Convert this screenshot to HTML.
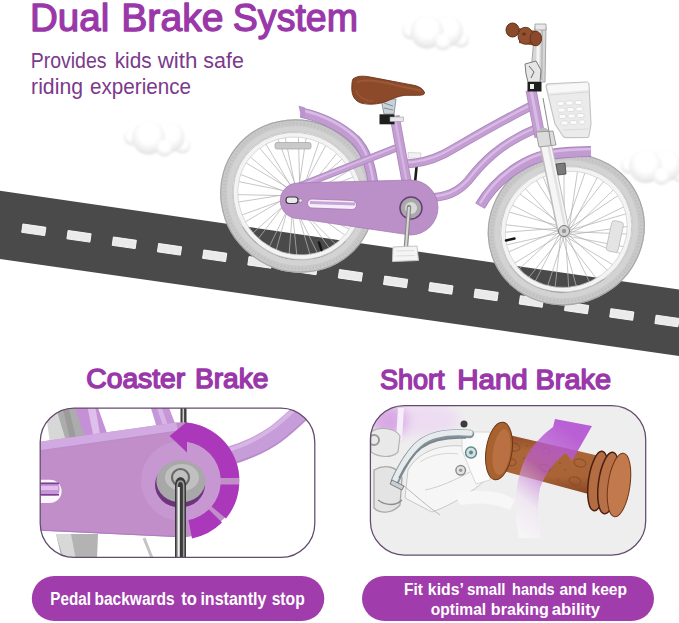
<!DOCTYPE html>
<html><head><meta charset="utf-8">
<style>
html,body{margin:0;padding:0;background:#fff;}
body{width:679px;height:623px;overflow:hidden;position:relative;font-family:"Liberation Sans",sans-serif;}
svg{position:absolute;left:0;top:0;display:block;}
</style></head>
<body>
<svg width="679" height="623" viewBox="0 0 679 623">
<!-- road -->
<polygon points="0,190.8 679,289.5 679,356 0,259" fill="#4a4a4a"/>
<g id="dashes" fill="#eaeaea" stroke="#fafafa" stroke-width="0.9">
<rect x="22.2" y="225.6" width="23.2" height="8.4" transform="rotate(8.20 33.8 229.8)"/>
<rect x="67.4" y="232.1" width="23.2" height="8.4" transform="rotate(8.20 79.0 236.3)"/>
<rect x="112.7" y="238.6" width="23.2" height="8.4" transform="rotate(8.20 124.3 242.8)"/>
<rect x="157.9" y="245.1" width="23.2" height="8.4" transform="rotate(8.20 169.5 249.3)"/>
<rect x="203.1" y="251.6" width="23.2" height="8.4" transform="rotate(8.20 214.7 255.8)"/>
<rect x="248.3" y="258.2" width="23.2" height="8.4" transform="rotate(8.20 259.9 262.4)"/>
<rect x="293.6" y="264.7" width="23.2" height="8.4" transform="rotate(8.20 305.2 268.9)"/>
<rect x="338.8" y="271.2" width="23.2" height="8.4" transform="rotate(8.20 350.4 275.4)"/>
<rect x="384.0" y="277.7" width="23.2" height="8.4" transform="rotate(8.20 395.6 281.9)"/>
<rect x="429.3" y="284.2" width="23.2" height="8.4" transform="rotate(8.20 440.9 288.4)"/>
<rect x="474.5" y="290.7" width="23.2" height="8.4" transform="rotate(8.20 486.1 294.9)"/>
<rect x="519.7" y="297.3" width="23.2" height="8.4" transform="rotate(8.20 531.3 301.5)"/>
<rect x="565.0" y="303.8" width="23.2" height="8.4" transform="rotate(8.20 576.6 308.0)"/>
<rect x="610.2" y="310.3" width="23.2" height="8.4" transform="rotate(8.20 621.8 314.5)"/>
<rect x="655.4" y="316.8" width="23.2" height="8.4" transform="rotate(8.20 667.0 321.0)"/>
</g>

<defs>
<radialGradient id="cg" cx="50%" cy="36%" r="68%"><stop offset="0.45" stop-color="#ffffff"/><stop offset="0.8" stop-color="#ececec"/><stop offset="1" stop-color="#d8d8d8"/></radialGradient>
<filter id="blur1" x="-20%" y="-20%" width="140%" height="140%"><feGaussianBlur stdDeviation="0.8"/></filter>
<g id="cloud" filter="url(#blur1)">
<circle cx="410.5" cy="31" r="8.5" fill="url(#cg)"/>
<circle cx="461" cy="39.5" r="8" fill="url(#cg)"/>
<circle cx="447.5" cy="31" r="15.5" fill="url(#cg)"/>
<circle cx="427" cy="32" r="16.5" fill="url(#cg)"/>
<circle cx="443" cy="42" r="8.5" fill="url(#cg)"/>
</g>
</defs>
<use href="#cloud"/>
<use href="#cloud" transform="translate(-278.5,106)"/>
<use href="#cloud" transform="translate(218.5,134.5)"/>
<!-- BIKE START -->
<g id="rearwheel"><path d="M300.0,197.7L353.4,177.0M299.9,198.5L319.0,141.8M299.6,199.2L357.8,197.4M299.3,199.9L336.9,153.3M298.8,200.6L354.8,217.6M298.2,201.1L350.1,170.0M297.6,201.5L345.0,235.2M296.8,201.8L357.0,189.9M296.1,202.0L329.4,248.1M295.3,202.0L356.7,210.4M294.5,201.9L310.0,254.7M293.8,201.6L349.3,229.2M293.1,201.3L289.1,254.2M292.4,200.8L335.6,244.1M291.9,200.2L269.3,246.7M291.5,199.6L317.4,253.1M291.2,198.8L252.8,233.1M291.0,198.1L296.8,255.2M291.0,197.3L241.8,215.0M291.1,196.5L276.2,250.2M291.4,195.8L237.4,194.6M291.7,195.1L258.3,238.7M292.2,194.4L240.4,174.4M292.8,193.9L245.1,222.0M293.4,193.5L250.2,156.8M294.2,193.2L238.2,202.1M294.9,193.0L265.8,143.9M295.7,193.0L238.5,181.6M296.5,193.1L285.2,137.3M297.2,193.4L245.9,162.8M297.9,193.7L306.1,137.8M298.6,194.2L259.6,147.9M299.1,194.8L325.9,145.3M299.5,195.4L277.8,138.9M299.8,196.2L342.4,158.9M300.0,196.9L298.4,136.8" stroke="#b3b3b3" stroke-width="0.75" fill="none"/>
<g transform="translate(297.6 196.0) rotate(-51.8)" fill="none">
<ellipse rx="68.90" ry="72.40" stroke="#c9c9c9" stroke-width="12.8"/>
<ellipse rx="65.80" ry="69.30" stroke="#d3d3d3" stroke-width="5"/>
<ellipse rx="71.50" ry="75.00" stroke="#bdbdbd" stroke-width="3" stroke-dasharray="1.2 2.4" opacity="0.8"/>
<ellipse rx="74.70" ry="78.20" stroke="#a8a8a8" stroke-width="1.2"/>
<ellipse rx="60.00" ry="63.50" stroke="#f3f3f3" stroke-width="4.6"/>
<ellipse rx="57.70" ry="61.20" stroke="#cfcfcf" stroke-width="0.7"/>
<ellipse rx="62.30" ry="65.80" stroke="#bcbcbc" stroke-width="0.7"/>
</g></g>
<g id="frontwheel"><path d="M569.5,231.7L627.1,234.0M569.4,232.5L613.6,189.6M569.1,233.2L620.5,253.7M568.8,233.9L624.1,206.7M568.3,234.6L607.5,270.4M567.7,235.1L627.6,226.5M567.1,235.5L589.5,282.2M566.3,235.8L623.7,246.7M565.6,236.0L568.7,287.6M564.8,236.0L612.9,264.8M564.0,235.9L547.6,286.0M563.3,235.6L596.5,278.6M562.6,235.3L528.7,277.6M561.9,234.8L576.4,286.4M561.4,234.2L514.4,263.3M561.0,233.6L555.1,287.4M560.7,232.8L506.4,244.9M560.5,232.1L535.2,281.4M560.5,231.3L505.5,224.7M560.6,230.5L519.0,269.1M560.9,229.8L512.1,205.0M561.2,229.1L508.5,252.0M561.7,228.4L525.1,188.3M562.3,227.9L505.0,232.2M562.9,227.5L543.1,176.5M563.7,227.2L508.9,212.0M564.4,227.0L563.9,171.1M565.2,227.0L519.7,193.9M566.0,227.1L585.0,172.7M566.7,227.4L536.1,180.1M567.4,227.7L603.9,181.1M568.1,228.2L556.2,172.3M568.6,228.8L618.2,195.4M569.0,229.4L577.5,171.3M569.3,230.2L626.2,213.8M569.5,230.9L597.4,177.3" stroke="#b3b3b3" stroke-width="0.75" fill="none"/>
<g transform="translate(566.3 229.35) rotate(-25.3)" fill="none">
<ellipse rx="73.00" ry="68.60" stroke="#c9c9c9" stroke-width="12.8"/>
<ellipse rx="69.90" ry="65.50" stroke="#d3d3d3" stroke-width="5"/>
<ellipse rx="75.60" ry="71.20" stroke="#bdbdbd" stroke-width="3" stroke-dasharray="1.2 2.4" opacity="0.8"/>
<ellipse rx="78.80" ry="74.40" stroke="#a8a8a8" stroke-width="1.2"/>
<ellipse rx="64.10" ry="59.70" stroke="#f3f3f3" stroke-width="4.6"/>
<ellipse rx="61.80" ry="57.40" stroke="#cfcfcf" stroke-width="0.7"/>
<ellipse rx="66.40" ry="62.00" stroke="#bcbcbc" stroke-width="0.7"/>
</g></g>
<!-- valves & bracket -->
<path d="M506,240.5 L514.5,238.5" stroke="#151515" stroke-width="2.4" stroke-linecap="round"/>
<path d="M319,242.5 L321.5,250" stroke="#151515" stroke-width="2.4" stroke-linecap="round"/>
<path d="M408,152.5 L421,153 L420.5,158.5 L408.5,158 Z" fill="#f2f2f2" stroke="#c9c9c9" stroke-width="0.7"/>
<!-- reflectors -->
<rect x="275" y="142.5" width="36" height="6.5" rx="2" fill="#c9c9c9" stroke="#a9a9a9" stroke-width="0.8"/>
<rect x="609" y="221" width="12" height="31" rx="3" fill="#e4e4e4" stroke="#bdbdbd" stroke-width="0.8" transform="rotate(12 615 236)"/>
<!-- rear fender -->
<path d="M301,112.5 C323,117.5 342,127.5 355,139.5 C366,151 371.5,166 373.5,188" fill="none" stroke="#a783b9" stroke-width="10.5"/>
<path d="M301,112.5 C323,117.5 342,127.5 355,139.5 C366,151 371.5,166 373.5,188" fill="none" stroke="#c29bd2" stroke-width="8.7"/>
<path d="M301,112.5 C323,117.5 342,127.5 355,139.5 C366,151 371.5,166 373.5,188" fill="none" stroke="#d8bce6" stroke-width="2.5" transform="translate(0 -2.5)"/>
<path d="M298.5,105.5 L305,107.5 L305,118 L301,117 Z" fill="#bb94cd"/>
<!-- seat stay -->
<path d="M396,148 L300,186" fill="none" stroke="#aa89ba" stroke-width="7.5"/>
<path d="M396,148 L300,186" fill="none" stroke="#c49dd3" stroke-width="5.9"/>
<path d="M396,148 L300,186" fill="none" stroke="#d8bce6" stroke-width="1.8" transform="translate(0 -1)"/>
<!-- front fender -->
<path d="M480,206 C488,192 500,178 520,166 C535,157 548,152 591,151.5" fill="none" stroke="#a783b9" stroke-width="11"/>
<path d="M480,206 C488,192 500,178 520,166 C535,157 548,152 591,151.5" fill="none" stroke="#c29bd2" stroke-width="9.2"/>
<path d="M480,206 C488,192 500,178 520,166 C535,157 548,152 591,151.5" fill="none" stroke="#d8bce6" stroke-width="2.5" transform="translate(0 -2.5)"/>
<path d="M416.5,167 L415,183" stroke="#1c1c1c" stroke-width="2.6"/>
<!-- upper top tube -->
<path d="M402,164 C418,164 430,161 444,154 C462,144 495,124 533,105" fill="none" stroke="#aa89ba" stroke-width="9"/>
<path d="M402,164 C418,164 430,161 444,154 C462,144 495,124 533,105" fill="none" stroke="#c49dd3" stroke-width="7.4"/>
<path d="M402,164 C418,164 430,161 444,154 C462,144 495,124 533,105" fill="none" stroke="#d8bce6" stroke-width="2.2" transform="translate(0 -1.2)"/>
<!-- lower tube -->
<path d="M428,198 C446,197 457,193 468,181 C481,164 500,143 538,128" fill="none" stroke="#aa89ba" stroke-width="9"/>
<path d="M428,198 C446,197 457,193 468,181 C481,164 500,143 538,128" fill="none" stroke="#c49dd3" stroke-width="7.4"/>
<path d="M428,198 C446,197 457,193 468,181 C481,164 500,143 538,128" fill="none" stroke="#d8bce6" stroke-width="2.2" transform="translate(0 -1.2)"/>
<!-- seat tube -->
<path d="M394.5,116 L410,200" fill="none" stroke="#aa89ba" stroke-width="10"/>
<path d="M394.5,116 L410,200" fill="none" stroke="#c49dd3" stroke-width="8.4"/>
<path d="M394.5,116 L410,200" fill="none" stroke="#d4b6e2" stroke-width="2.2" transform="translate(0 0)"/>
<!-- head tube -->
<path d="M531,90 L540,137" fill="none" stroke="#aa89ba" stroke-width="11"/>
<path d="M531,90 L540,137" fill="none" stroke="#c49dd3" stroke-width="9.4"/>
<path d="M531,90 L540,137" fill="none" stroke="#d8bce6" stroke-width="3" transform="translate(0 0)"/>
<!-- chain guard -->
<path d="M298,183 L410.5,180 A27.5,27.5 0 0 1 410.5,235 L298,218.5 A17.75,17.75 0 0 1 298,183 Z" fill="#bb8fc7" stroke="#a77db5" stroke-width="0.8"/>
<path d="M312,199 L352,200.5 A4.5,4.5 0 0 1 352,209.5 L312,208 A4.5,4.5 0 0 1 312,199 Z" fill="#f4eef7" stroke="#9f76b0" stroke-width="0.8"/>
<path d="M310,202.5 L355,204" stroke="#c9a3d9" stroke-width="3"/>
<rect x="286" y="197" width="12" height="6.5" rx="3" fill="#eaeaea" stroke="#3a3a3a" stroke-width="1.2"/>
<circle cx="300.5" cy="200.5" r="1.6" fill="#eee" stroke="#888" stroke-width="0.6"/>
<!-- crank -->
<circle cx="411" cy="208" r="11" fill="#a9a9a9" stroke="#6a3d7a" stroke-width="1.5"/>
<circle cx="411" cy="208" r="6" fill="#d9d9d9"/>
<path d="M409,207 L406,246" stroke="#8a8a8a" stroke-width="4.5" stroke-linecap="round"/>
<path d="M409,207 L406,246" stroke="#d8d8d8" stroke-width="2"/>
<path d="M393,247 L417,246 L418.5,260.5 L392.5,261.5 Z" fill="#f4f4f4" stroke="#c4c4c4" stroke-width="1"/>
<path d="M396,251 L414,250.5 M396,256 L415,255.5" stroke="#dcdcdc" stroke-width="1.2"/>
<!-- fork -->
<path d="M543.5,134 L563,229" fill="none" stroke="#bcbcbc" stroke-width="12.5" stroke-linecap="round"/>
<path d="M543.8,134 L563.3,229" fill="none" stroke="#f6f6f6" stroke-width="10"/>
<path d="M546,134 L565.5,229" fill="none" stroke="#e2e2e2" stroke-width="2.5"/>
<path d="M536,132 L553,131 L556,145 L539,147 Z" fill="#dcdcdc" stroke="#8d8d8d" stroke-width="0.8"/>
<path d="M556,164 L565,163 L566,174 L558,175 Z" fill="#7b7b7b" stroke="#444" stroke-width="0.8"/>
<circle cx="564" cy="231" r="5.5" fill="#d5d5d5" stroke="#7a7a7a" stroke-width="1"/>
<circle cx="564" cy="231" r="2.2" fill="#999"/>
<!-- stem -->
<path d="M535,27 L546,27 L545,82 L530,82 Z" fill="#d6d6d6" stroke="#a0a0a0" stroke-width="0.9"/>
<path d="M537,29 L540,29 L539,80 L536,80 Z" fill="#f5f5f5"/>
<path d="M541.5,29 L543,29 L542.5,80 L541,80 Z" fill="#b8b8b8"/>
<path d="M535,24 L546,24 L546,30 L535,30 Z" fill="#e8e8e8" stroke="#9a9a9a" stroke-width="0.8"/>
<path d="M525,64 L536,61 L541,70 L540,82 L528,82 L526,74 Z" fill="#e6e6e6" stroke="#7c7c7c" stroke-width="1"/>
<path d="M529,66 L534,72 L531,78" fill="none" stroke="#6a6a6a" stroke-width="1"/>
<rect x="527.5" y="82" width="14" height="9.5" fill="#1d1d1d"/>
<rect x="530" y="84" width="4" height="5" fill="#f0f0f0"/>
<!-- brake cable -->
<path d="M543,98 C546,115 549,130 551,145" fill="none" stroke="#8a8a8a" stroke-width="1"/>
<!-- handlebar grips -->
<ellipse cx="512.5" cy="30" rx="6.5" ry="7" fill="#8a4a2b" stroke="#5e2f15" stroke-width="1"/>
<path d="M519,28 L536,31 L536,46 L519,43 Z" fill="#8e4c2c"/>
<ellipse cx="525.5" cy="35.8" rx="7.5" ry="8.5" fill="#935030" stroke="#5e2f15" stroke-width="0.9"/>
<ellipse cx="535.8" cy="38.5" rx="5.8" ry="7.3" fill="#8b482a" stroke="#5e2f15" stroke-width="0.9"/>
<ellipse cx="524" cy="34" rx="2" ry="1.5" fill="#6a3418"/>
<!-- basket -->
<path d="M546,86.5 C546,84.5 547,84 549,83.8 L586,82 C588,82 589,83 589,85 L591,124 L589,136 C589,137 588,137.5 587,137.5 L566,137.6 C564,137.6 563,137 562.5,135.5 L555,124 Z" fill="#ebebeb" stroke="#c2c2c2" stroke-width="1.1"/>
<path d="M547,86 L588,82.5 L588.5,90 L549,93 Z" fill="#f8f8f8"/>
<path d="M549.5,95 L588,92" stroke="#d3d3d3" stroke-width="0.8"/>
<g fill="#fbfbfb" stroke="#d0d0d0" stroke-width="0.6">
<rect x="557" y="101.5" width="7" height="4" rx="1.5"/><rect x="566" y="101" width="7" height="4" rx="1.5"/><rect x="575" y="100.5" width="7" height="4" rx="1.5"/>
<rect x="558" y="108" width="7" height="4" rx="1.5"/><rect x="567" y="107.5" width="7" height="4" rx="1.5"/><rect x="576" y="107" width="7" height="4" rx="1.5"/>
<rect x="559" y="114.5" width="7" height="4" rx="1.5"/><rect x="568" y="114" width="7" height="4" rx="1.5"/><rect x="577" y="113.5" width="7" height="4" rx="1.5"/>
<rect x="561" y="121" width="7" height="4" rx="1.5"/><rect x="570" y="120.5" width="7" height="4" rx="1.5"/><rect x="579" y="120" width="6" height="4" rx="1.5"/>
</g>
<path d="M563,130 L588,129" stroke="#d6d6d6" stroke-width="0.8"/>
<!-- seat clamp -->
<path d="M381,99 L396,99 L394,114 L384,114 Z" fill="#c9d2d8" stroke="#7f8f9a" stroke-width="0.9"/>
<path d="M384,103 L393,106 M384,108 L393,110" stroke="#7f8f9a" stroke-width="1"/>
<rect x="379.5" y="114.3" width="15" height="10" fill="#1e1e1e"/>
<rect x="390" y="117" width="13.5" height="4.5" fill="#e8e8e8" stroke="#9a9a9a" stroke-width="0.6"/>
<!-- seat -->
<path d="M353,79 C357,76 362,75.5 370,77 C385,79.5 400,83 415,85.5 C420,87 424,89.5 424.5,93 C424.5,95 421,95.5 414,95.3 L405,95.3 C398,96 392,99 386,101.5 C378,104.5 368,105 361,103 C355,101 352,96 351.8,89 C351.8,84 352,81 353,79 Z" fill="#8d4a2a" stroke="#6a3318" stroke-width="0.9"/>
<path d="M357,82 C365,79 380,81 395,85 C405,87.5 415,89 421,91" fill="none" stroke="#a5633f" stroke-width="2.2" opacity="0.6"/>
<path d="M356,90 C358,97 365,101 373,101" fill="none" stroke="#a5633f" stroke-width="1.5" opacity="0.5"/>
<!-- BIKE END -->
<!-- title -->

<!-- headings -->

<!-- boxes -->


<!-- BOXES START -->
<defs>
<clipPath id="clipL"><rect x="40.2" y="408" width="274.6" height="149.4" rx="34"/></clipPath>
<clipPath id="clipR"><rect x="370.4" y="405.6" width="275.3" height="149.4" rx="34"/></clipPath>
<filter id="blur3" x="-50%" y="-50%" width="200%" height="200%"><feGaussianBlur stdDeviation="6"/></filter>
<filter id="blur1b"><feGaussianBlur stdDeviation="0.6"/></filter>
<linearGradient id="arrowG" x1="0" y1="1" x2="0.5" y2="0">
<stop offset="0" stop-color="#ffffff" stop-opacity="0.6"/>
<stop offset="0.3" stop-color="#efe3f3" stop-opacity="0.6"/>
<stop offset="0.6" stop-color="#b85fcf" stop-opacity="0.7"/>
<stop offset="1" stop-color="#b553d3" stop-opacity="0.92"/>
</linearGradient>
<linearGradient id="gripG" x1="0" y1="0" x2="0" y2="1">
<stop offset="0" stop-color="#8f4b28"/>
<stop offset="0.3" stop-color="#ab6638"/>
<stop offset="0.7" stop-color="#a96336"/>
<stop offset="1" stop-color="#874522"/>
</linearGradient>
</defs>
<!-- LEFT BOX CONTENT -->
<g clip-path="url(#clipL)">
<rect x="40" y="408" width="276" height="150" fill="#fff"/>
<!-- tire top-left -->
<path d="M55,405 L78,405 L88,437 L60,441 Z" fill="#acacac"/>
<path d="M62,405 L68,405 L76,438 L70,439 Z" fill="#9b9b9b"/>
<path d="M46,414 L56,408 L66,441 L50,443 Z" fill="#d7d7d7"/>
<!-- tire bottom -->
<path d="M56,534 L98,534 L97,560 L62,560 Z" fill="#b3b3b3"/>
<path d="M56,534 L71,534 L76,560 L64,560 Z" fill="#d8d8d8"/>
<!-- tubes top -->
<path d="M74,405 L97,405 L108,436 L85,438 Z" fill="#c490d6"/>
<path d="M87,405 L95,405 L100,434 L93,434 Z" fill="#dfc0ec"/>
<path d="M150,405 L168,405 L176,426 L157,428 Z" fill="#c596d8"/>
<path d="M156,405 L161,405 L168,426 L163,426 Z" fill="#d7b5e6"/>
<rect x="180.5" y="405" width="6" height="19" fill="#3c3c3c"/>
<rect x="182.5" y="405" width="1.6" height="19" fill="#d0d0d0"/>
<!-- lower frame tube to right -->
<path d="M222,458 C245,452 262,444 276,434 C288,425 298,415 312,402" fill="none" stroke="#c69dd8" stroke-width="19"/>
<path d="M222,452 C244,446 259,438 272,428.5 C284,420 293,410 306,398" fill="none" stroke="#d7b6e6" stroke-width="4"/>
<path d="M222,466.5 C246,460 266,452 281,441 C293,432 302,423 316,410" fill="none" stroke="#b88bca" stroke-width="1.5"/>
<!-- chain guard -->
<path d="M38,442 L176,422.5 A58.5,58.5 0 0 1 239.5,480.5 A58.5,58.5 0 0 1 175,537 L38,530.5 Z" fill="#c18ec9"/>
<path d="M38,442 L176,422.5 L178,431 L38,451 Z" fill="#d2aae2"/>
<path d="M38,451 L178,431" stroke="#b885cb" stroke-width="0.8"/>
<path d="M38,530 L175,536.5" stroke="#b07cc2" stroke-width="1.2"/>
<!-- boss -->
<circle cx="181" cy="481" r="40" fill="#c697d0"/>
<!-- slot -->
<path d="M38,479.7 L50,479.7 A11.6,11.6 0 0 1 50,502.9 L38,502.9 Z" fill="#fbf7fc"/>
<rect x="38" y="482.6" width="21.5" height="13" rx="5" fill="#c795d8"/>
<rect x="38" y="482.6" width="21" height="1.6" fill="#7d3f90"/>
<rect x="38" y="494" width="21" height="1.6" fill="#7d3f90"/>
<rect x="38" y="486" width="20" height="4" fill="#e3bff0"/>
<!-- arrow ring segments -->
<g fill="#ab37ba">
<path d="M186.5,422.6 A58.2,58.2 0 0 1 239.2,478 L220.7,478 A39.7,39.7 0 0 0 186.5,441.7 Z"/>
<path d="M239.2,484.5 A58.2,58.2 0 0 1 226,518.5 L211.6,506.5 A39.7,39.7 0 0 0 220.6,484.5 Z"/>
<path d="M222,522.5 A58.2,58.2 0 0 1 192,538.4 L188.5,520 A39.7,39.7 0 0 0 208.8,509.5 Z"/>
<path d="M187,421.8 L169.6,436 L187,452.4 Z"/>
</g>
<!-- nut -->
<ellipse cx="180" cy="485" rx="25" ry="22.5" fill="#5e2270" opacity="0.85"/>
<ellipse cx="180.9" cy="481.3" rx="24.5" ry="21" fill="#a8a8a8"/>
<ellipse cx="182" cy="477.5" rx="17" ry="13.5" fill="#c4c4c4" opacity="0.85"/>
<circle cx="180.5" cy="477.5" r="8.5" fill="none" stroke="#6a6a6a" stroke-width="2.2"/>
<!-- crank arm -->
<path d="M175,560 L175,485 C175,474.5 186,474.5 186,485 L186,560 Z" fill="#3a3a3a"/>
<path d="M177.3,560 L177.3,486 C177.3,479.5 183.7,479.5 183.7,486 L183.7,560" fill="none" stroke="#9a9a9a" stroke-width="1.6"/>
<path d="M178.8,560 L178.8,487" stroke="#f0f0f0" stroke-width="2"/>
<path d="M144,538 L152,558" stroke="#c4c4c4" stroke-width="3"/>
</g>
<!-- RIGHT BOX CONTENT -->
<g clip-path="url(#clipR)">
<rect x="370" y="405" width="277" height="151" fill="#efeeee"/>
<ellipse cx="425" cy="420" rx="35" ry="16" fill="#eddcf2" filter="url(#blur3)"/>
<ellipse cx="389" cy="421" rx="18" ry="17" fill="#d9a9e4" filter="url(#blur3)"/>
<path d="M398,408 L404,408 L402,440 L396,440 Z" fill="#f6eef8" filter="url(#blur1b)"/>
<ellipse cx="464" cy="424" rx="3.5" ry="3.5" fill="#3a3a3a" filter="url(#blur1b)"/>
<!-- left clamp pieces -->
<path d="M371,432 C380,426 395,428 400,436 L398,452 C392,458 380,458 371,452 Z" fill="#e9e9e9" stroke="#b3b3b3" stroke-width="1.2" filter="url(#blur1b)"/>
<circle cx="374" cy="440" r="5" fill="none" stroke="#9a9a9a" stroke-width="2" filter="url(#blur1b)"/>
<path d="M374,470 C385,464 398,466 402,478 L400,505 C392,514 380,514 374,508 Z" fill="#e4e4e4" stroke="#a9a9a9" stroke-width="1.3" filter="url(#blur1b)"/>
<path d="M378,500 C386,506 396,506 402,500" fill="none" stroke="#8e8e8e" stroke-width="1.5"/>
<!-- lever plate -->
<path d="M408,470 C418,452 440,444 462,446 L486,452 L488,478 C472,492 452,505 432,512 L405,498 Z" fill="#f6f6f6" stroke="#c8c8c8" stroke-width="1"/>
<path d="M420,462 C430,455 445,452 458,454" fill="none" stroke="#d6d6d6" stroke-width="1"/>
<path d="M425,490 C440,487 455,480 470,472" fill="none" stroke="#c9c9c9" stroke-width="0.9"/>
<path d="M404,486 C415,495 428,507 440,515" fill="none" stroke="#b9b9b9" stroke-width="1"/>
<path d="M462,432 L490,432 L490,480 L476,484 L470,470 L462,450 Z" fill="#fbfbfb" stroke="#d4d4d4" stroke-width="0.9"/>
<!-- silver lever bar -->
<path d="M395,481 C402,466 410,452 420,444 C430,436 445,432 470,434" fill="none" stroke="#86939a" stroke-width="8.5" stroke-linecap="round"/>
<path d="M395,480 C402,465 410,451 420,443 C430,435 445,431 470,433" fill="none" stroke="#e6ebee" stroke-width="5.5" stroke-linecap="round"/>
<path d="M399,478 C405,466 412,455 421,448 C432,440 446,437 466,438" fill="none" stroke="#7b878d" stroke-width="1.6"/>
<path d="M392,480 L404,486 L402,490 L390,484 Z" fill="#c9cfd2" stroke="#666" stroke-width="0.8"/>
<!-- bolts -->
<circle cx="471" cy="452.6" r="5.5" fill="#d6e0e0" stroke="#5f8a8c" stroke-width="1.5"/>
<circle cx="471" cy="452.6" r="2" fill="#5f8a8c"/>
<circle cx="460.7" cy="470.3" r="4.8" fill="#e4e4e4" stroke="#8d8d8d" stroke-width="1.5"/>
<circle cx="460.7" cy="470.3" r="1.8" fill="#999"/>
<!-- lower white piece -->
<path d="M455,495 C475,488 500,490 515,500 L510,510 C495,503 478,502 460,505 Z" fill="#f7f7f7"/>
<!-- grip -->
<g>
<path d="M500,433 L606,457.5 L592,495 L496,469 Z" fill="url(#gripG)"/>
<g fill="none" stroke="#844a24" stroke-width="1.1" opacity="0.75">
<ellipse cx="514" cy="447" rx="6" ry="4" transform="rotate(14 514 447)"/>
<ellipse cx="511" cy="462" rx="5" ry="3.5" transform="rotate(14 511 462)"/>
<ellipse cx="580" cy="463" rx="6" ry="4" transform="rotate(14 580 463)"/>
<ellipse cx="575" cy="481" rx="6" ry="4" transform="rotate(14 575 481)"/>
<ellipse cx="545" cy="468" rx="5.5" ry="3.5" transform="rotate(14 545 468)"/>
<ellipse cx="546" cy="451" rx="4" ry="3" transform="rotate(14 546 451)"/>
</g>
<g fill="#844a24" opacity="0.6">
<circle cx="527" cy="446" r="0.9"/><circle cx="531" cy="452" r="0.9"/><circle cx="524" cy="458" r="0.9"/><circle cx="560" cy="463" r="0.9"/><circle cx="565" cy="470" r="0.9"/><circle cx="590" cy="472" r="0.9"/><circle cx="588" cy="480" r="0.9"/><circle cx="558" cy="480" r="0.9"/>
</g>
<ellipse cx="499" cy="451" rx="13" ry="29" transform="rotate(8 499 451)" fill="#a8622f" stroke="#6d3517" stroke-width="1"/>
<ellipse cx="501.5" cy="452" rx="8.5" ry="23" transform="rotate(8 501.5 452)" fill="#b97144"/>
<ellipse cx="598" cy="481" rx="9.5" ry="30" transform="rotate(8 598 481)" fill="#b46d42" stroke="#4a2010" stroke-width="1.5"/>
<ellipse cx="608.5" cy="483" rx="10" ry="31" transform="rotate(8 608.5 483)" fill="#b87146" stroke="#4a2010" stroke-width="1.5"/>
<ellipse cx="619" cy="485" rx="11" ry="32" transform="rotate(8 619 485)" fill="#c27a4c" stroke="#6d3517" stroke-width="1"/>
</g>
<!-- purple arrow -->
<path d="M519,538 C513,508 515,478 527,455 C535,442 545,433 553,427 L555,419 L592,426 L572,461 L566,453 C556,460 546,472 540,488 C537,505 538,520 541,538 Z" fill="url(#arrowG)"/>
</g>
<!-- BOXES END -->
<rect x="40.2" y="408" width="274.6" height="149.4" rx="34" fill="none" stroke="#634a6c" stroke-width="1.25"/>
<rect x="370.4" y="405.6" width="275.3" height="149.4" rx="34" fill="none" stroke="#634a6c" stroke-width="1.25"/>

<!-- pills -->
<rect x="31.8" y="576" width="292.5" height="45" rx="22.5" fill="#a03cab"/>
<rect x="362" y="576" width="292" height="45" rx="22.5" fill="#a03cab"/>
<g id="texts" font-family="Liberation Sans">
<text id="w0" x="29.92" y="31.4" font-size="38.6" font-weight="normal" stroke="#9a38aa" stroke-width="1.3" stroke-linejoin="round" fill="#9a38aa" textLength="79.29" lengthAdjust="spacingAndGlyphs">Dual</text>
<text id="w1" x="121.22" y="31.4" font-size="38.6" font-weight="normal" stroke="#9a38aa" stroke-width="1.3" stroke-linejoin="round" fill="#9a38aa" textLength="102.30" lengthAdjust="spacingAndGlyphs">Brake</text>
<text id="w2" x="232.79" y="31.4" font-size="38.6" font-weight="normal" stroke="#9a38aa" stroke-width="1.3" stroke-linejoin="round" fill="#9a38aa" textLength="125.29" lengthAdjust="spacingAndGlyphs">System</text>
<text id="w3" x="30.65" y="68.2" font-size="21.5" font-weight="normal" fill="#7b3a8b" textLength="75.97" lengthAdjust="spacingAndGlyphs">Provides</text>
<text id="w4" x="114.64" y="68.2" font-size="21.5" font-weight="normal" fill="#7b3a8b" textLength="36.99" lengthAdjust="spacingAndGlyphs">kids</text>
<text id="w5" x="157.67" y="68.2" font-size="21.5" font-weight="normal" fill="#7b3a8b" textLength="39.77" lengthAdjust="spacingAndGlyphs">with</text>
<text id="w6" x="203.36" y="68.2" font-size="21.5" font-weight="normal" fill="#7b3a8b" textLength="40.48" lengthAdjust="spacingAndGlyphs">safe</text>
<text id="w7" x="31.10" y="93.6" font-size="21.5" font-weight="normal" fill="#7b3a8b" textLength="51.90" lengthAdjust="spacingAndGlyphs">riding</text>
<text id="w8" x="90.07" y="93.6" font-size="21.5" font-weight="normal" fill="#7b3a8b" textLength="101.04" lengthAdjust="spacingAndGlyphs">experience</text>
<text id="w9" x="86.29" y="388.3" font-size="28.4" font-weight="normal" stroke="#9a38aa" stroke-width="1.5" stroke-linejoin="round" fill="#9a38aa" textLength="98.94" lengthAdjust="spacingAndGlyphs">Coaster</text>
<text id="w10" x="194.99" y="388.3" font-size="28.4" font-weight="normal" stroke="#9a38aa" stroke-width="1.5" stroke-linejoin="round" fill="#9a38aa" textLength="73.44" lengthAdjust="spacingAndGlyphs">Brake</text>
<text id="w11" x="379.89" y="388.5" font-size="28.4" font-weight="normal" stroke="#9a38aa" stroke-width="1.5" stroke-linejoin="round" fill="#9a38aa" textLength="64.72" lengthAdjust="spacingAndGlyphs">Short</text>
<text id="w12" x="457.15" y="388.5" font-size="28.4" font-weight="normal" stroke="#9a38aa" stroke-width="1.5" stroke-linejoin="round" fill="#9a38aa" textLength="70.61" lengthAdjust="spacingAndGlyphs">Hand</text>
<text id="w13" x="535.52" y="388.5" font-size="28.4" font-weight="normal" stroke="#9a38aa" stroke-width="1.5" stroke-linejoin="round" fill="#9a38aa" textLength="75.51" lengthAdjust="spacingAndGlyphs">Brake</text>
<text id="w14" x="50.37" y="605.3" font-size="18" font-weight="bold" fill="#fff" textLength="40.67" lengthAdjust="spacingAndGlyphs">Pedal</text>
<text id="w15" x="94.44" y="605.3" font-size="18" font-weight="bold" fill="#fff" textLength="80.23" lengthAdjust="spacingAndGlyphs">backwards</text>
<text id="w16" x="181.28" y="605.3" font-size="18" font-weight="bold" fill="#fff" textLength="15.66" lengthAdjust="spacingAndGlyphs">to</text>
<text id="w17" x="200.39" y="605.3" font-size="18" font-weight="bold" fill="#fff" textLength="66.06" lengthAdjust="spacingAndGlyphs">instantly</text>
<text id="w18" x="271.67" y="605.3" font-size="18" font-weight="bold" fill="#fff" textLength="33.06" lengthAdjust="spacingAndGlyphs">stop</text>
<text id="w19" x="404.11" y="595.4" font-size="17" font-weight="bold" fill="#fff" textLength="18.89" lengthAdjust="spacingAndGlyphs">Fit</text>
<text id="w20" x="427.86" y="595.4" font-size="17" font-weight="bold" fill="#fff" textLength="36.00" lengthAdjust="spacingAndGlyphs">kids’</text>
<text id="w21" x="466.92" y="595.4" font-size="17" font-weight="bold" fill="#fff" textLength="38.67" lengthAdjust="spacingAndGlyphs">small</text>
<text id="w22" x="512.05" y="595.4" font-size="17" font-weight="bold" fill="#fff" textLength="42.56" lengthAdjust="spacingAndGlyphs">hands</text>
<text id="w23" x="559.44" y="595.4" font-size="17" font-weight="bold" fill="#fff" textLength="27.58" lengthAdjust="spacingAndGlyphs">and</text>
<text id="w24" x="591.54" y="595.4" font-size="17" font-weight="bold" fill="#fff" textLength="35.46" lengthAdjust="spacingAndGlyphs">keep</text>
<text id="w25" x="430.76" y="615.2" font-size="17" font-weight="bold" fill="#fff" textLength="55.45" lengthAdjust="spacingAndGlyphs">optimal</text>
<text id="w26" x="490.87" y="615.2" font-size="17" font-weight="bold" fill="#fff" textLength="58.08" lengthAdjust="spacingAndGlyphs">braking</text>
<text id="w27" x="551.86" y="615.2" font-size="17" font-weight="bold" fill="#fff" textLength="48.14" lengthAdjust="spacingAndGlyphs">ability</text>
</g>
</svg>
<script>
</script>
</body></html>
